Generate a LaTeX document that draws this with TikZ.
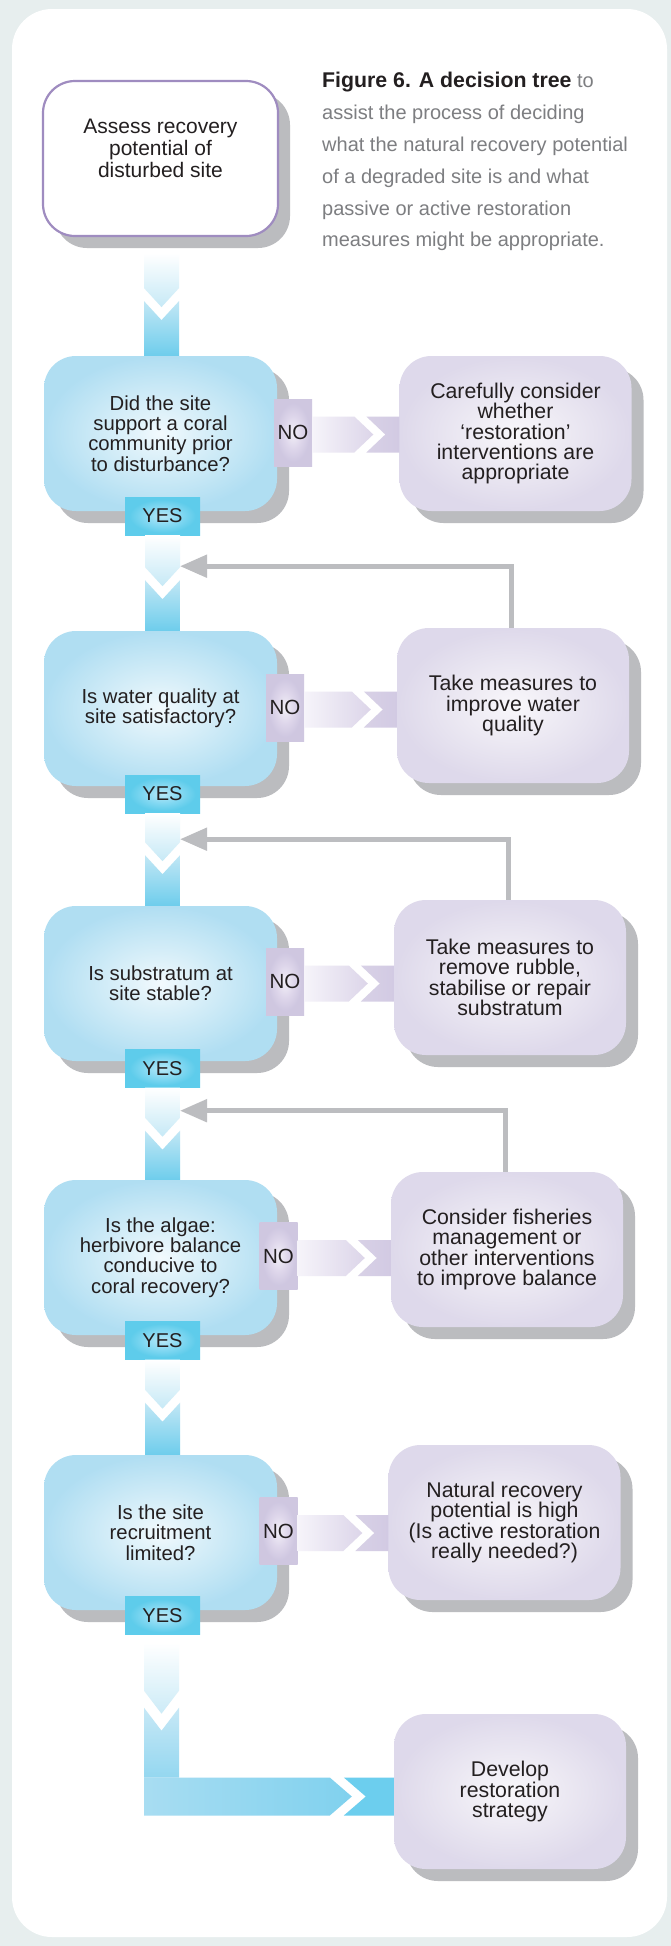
\documentclass[tikz,border=0pt]{standalone}
\usepackage{fontspec}
\setmainfont{Liberation Sans}
\usetikzlibrary{calc,shadows,arrows.meta}

\definecolor{bgc}{HTML}{E7EEEE}
\definecolor{shadowc}{HTML}{BBBCBF}
\definecolor{txt}{HTML}{231F20}
\definecolor{capgrey}{HTML}{7D7E81}
\definecolor{toprim}{HTML}{9F8CC0}
\definecolor{fbc}{HTML}{BCBDC0}
\definecolor{chevA}{HTML}{C6E9F6}
\definecolor{chevB}{HTML}{C2E7F5}
\definecolor{chevC}{HTML}{6ECDEC}
\definecolor{noA}{HTML}{F6F4FA}
\definecolor{noB}{HTML}{DCD5E9}
\definecolor{noC}{HTML}{D8D1E6}
\definecolor{noD}{HTML}{D2CAE3}
\definecolor{finA}{HTML}{CCEBF7}
\definecolor{finB}{HTML}{C7E8F6}
\definecolor{finC}{HTML}{94D7F0}
\definecolor{finD}{HTML}{A8DDF2}
\definecolor{finE}{HTML}{80D1EE}
\definecolor{finF}{HTML}{6CCEEE}

\pgfdeclareradialshading{qglow}{\pgfpoint{0bp}{0bp}}{rgb(0bp)=(0.95,0.98,0.995); rgb(6bp)=(0.88,0.95,0.98); rgb(18bp)=(0.76,0.90,0.96); rgb(25bp)=(0.69,0.87,0.95); rgb(50bp)=(0.69,0.87,0.95)}
\pgfdeclareradialshading{rglow}{\pgfpoint{0bp}{0bp}}{rgb(0bp)=(0.975,0.97,0.985); rgb(8bp)=(0.94,0.93,0.96); rgb(25bp)=(0.87,0.85,0.92); rgb(50bp)=(0.87,0.85,0.92)}
\pgfdeclareradialshading{yglow}{\pgfpoint{0bp}{0bp}}{rgb(0bp)=(0.72,0.91,0.97); rgb(12bp)=(0.52,0.85,0.95); rgb(22bp)=(0.37,0.80,0.92); rgb(50bp)=(0.37,0.80,0.92)}
\pgfdeclareradialshading{nglow}{\pgfpoint{0bp}{0bp}}{rgb(0bp)=(0.95,0.94,0.97); rgb(12bp)=(0.87,0.84,0.92); rgb(22bp)=(0.81,0.78,0.88); rgb(50bp)=(0.81,0.78,0.88)}

% vertical chevron arrow: #1 top point, #2 node point giving the bottom, #3 chevron offset
\newcommand{\vchevron}[3]{%
  \shade[top color=white, bottom color=chevA]
    ($(#1)+(-17.5,0)$) -- ($(#1)+(17.5,0)$) -- ($(#1)+(17.5,#3)$) --
    ($(#1)+(0,#3+19)$) -- ($(#1)+(-17.5,#3)$) -- cycle;
  \shade[top color=chevB, bottom color=chevC]
    ($(#1)+(-17.5,#3+13)$) -- ($(#1)+(0,#3+32)$) -- ($(#1)+(17.5,#3+13)$) --
    ($(#1 |- #2)+(17.5,0)$) -- ($(#1 |- #2)+(-17.5,0)$) -- cycle;
}
% horizontal chevron arrow: #1 start point, #2 node point giving the end
\newcommand{\hchevron}[2]{%
  \coordinate (hcS) at ($(#1)+(0,2)$);
  \coordinate (hcE) at (hcS -| #2);
  \shade[left color=noA, right color=noB]
    ($(hcS)+(0,-18)$) -- ($(hcE)+(-45,-18)$) -- ($(hcE)+(-26,0)$) --
    ($(hcE)+(-45,18)$) -- ($(hcS)+(0,18)$) -- cycle;
  \shade[left color=noC, right color=noD]
    ($(hcE)+(-33,-18)$) -- ($(hcE)+(0,-18)$) -- ($(hcE)+(0,18)$) --
    ($(hcE)+(-33,18)$) -- ($(hcE)+(-14,0)$) -- cycle;
}

\tikzset{
  sh/.style={drop shadow={shadow xshift=12pt, shadow yshift=-12pt, fill=shadowc, opacity=1}},
  qbox/.style={sh, rounded corners=32pt, minimum width=233pt, minimum height=155pt,
    inner sep=0pt, shade, shading=qglow, align=center, text=txt,
    font=\fontsize{20.3}{20.3}\selectfont},
  abox/.style={sh, rounded corners=32pt, minimum width=232pt, minimum height=155pt,
    inner sep=0pt, shade, shading=rglow, align=center, text=txt,
    font=\fontsize{21.3}{20.4}\selectfont},
  startbox/.style={sh, rounded corners=32pt, minimum width=235pt, minimum height=155pt,
    fill=white, draw=toprim, line width=2.2pt},
  yestab/.style={minimum width=75pt, minimum height=38pt, inner sep=0pt, shade,
    shading=yglow, text=txt, font=\fontsize{20}{20}\selectfont},
  notab/.style={minimum width=38pt, minimum height=67pt, inner sep=0pt, shade,
    shading=nglow, text=txt, font=\fontsize{20.5}{20}\selectfont},
  fb/.style={fbc, line width=5pt, -{Triangle[length=27pt,width=22pt]}},
}

\begin{document}
\begin{tikzpicture}[x=1pt, y=-1pt]
\useasboundingbox (0,0) rectangle (671,1946);
\fill[bgc] (0,0) rectangle (671,1946);
\fill[white, rounded corners=40pt] (12,9) rectangle (667,1937);

% start box
\node[startbox] (a0) at (160.5,158.5) {};
\node[text=txt, align=center, font=\fontsize{21}{22}\selectfont] (a0t) at (160.5,148)
  {Assess recovery\\potential of\\disturbed site};

% caption
\node[anchor=north west, align=left, inner sep=0pt, text=capgrey,
  font=\fontsize{20}{31.8}\selectfont] (cap) at (322,72.2)
  {\textcolor{txt}{\fontsize{21.3}{31.8}\selectfont\bfseries Figure 6. A decision tree} to\\
   assist the process of deciding\\
   what the natural recovery potential\\
   of a degraded site is and what\\
   passive or active restoration\\
   measures might be appropriate.};

% question boxes
\node[qbox] (q1) at (160.5,433.5) {Did the site\\support a coral\\community prior\\to disturbance?};
\node[qbox] (q2) at (160.5,708.5) {Is water quality at\\site satisfactory?};
\node[qbox] (q3) at (160.5,983.5) {Is substratum at\\site stable?};
\node[qbox] (q4) at (160.5,1257.5) {Is the algae:\\herbivore balance\\conducive to\\coral recovery?};
\node[qbox] (q5) at (160.5,1532.5) {Is the site\\recruitment\\limited?};

% action boxes
\node[abox] (r1) at (515.5,433.5) {Carefully consider\\whether\\‘restoration’\\interventions are\\appropriate};
\node[abox] (r2) at (513,705.5) {Take measures to\\improve water\\quality};
\node[abox] (r3) at (510,977.5) {Take measures to\\remove rubble,\\stabilise or repair\\substratum};
\node[abox] (r4) at (507,1249.5) {Consider fisheries\\management or\\other interventions\\to improve balance};
\node[abox] (r5) at (504.5,1522.5) {Natural recovery\\potential is high\\(Is active restoration\\really needed?)};
\node[abox] (r6) at (510,1791.5) {Develop\\restoration\\strategy};

% NO tabs
\node[notab] (no1) at (293,432.5) {NO};
\node[notab] (no2) at (285,707.5) {NO};
\node[notab] (no3) at (285,981.5) {NO};
\node[notab] (no4) at (278.5,1256) {NO};
\node[notab] (no5) at (278.5,1531) {NO};

% YES tabs
\node[yestab] (yes1) at (162.5,516) {YES};
\node[yestab] (yes2) at (162.5,794) {YES};
\node[yestab] (yes3) at (162.5,1068.5) {YES};
\node[yestab] (yes4) at (162.5,1340.5) {YES};
\node[yestab] (yes5) at (162.5,1615.5) {YES};

% vertical flow arrows
\coordinate (a0s) at ($(a0.south)+(1,16)$);
\vchevron{a0s}{q1.north}{35}
\vchevron{yes1.south}{q2.north}{32}
\vchevron{yes2.south}{q3.north}{29}
\vchevron{yes3.south}{q4.north}{30}
\vchevron{yes4.south}{q5.north}{30}

% NO arrows
\hchevron{no1.east}{r1.west}
\hchevron{no2.east}{r2.west}
\hchevron{no3.east}{r3.west}
\hchevron{no4.east}{r4.west}
\hchevron{no5.east}{r5.west}

% feedback arrows
\coordinate (fb1) at ($(yes1.south)+(17.5,31)$);
\coordinate (fb2) at ($(yes2.south)+(17.5,26)$);
\coordinate (fb3) at ($(yes3.south)+(17.5,23)$);
\draw[fb] ($(r2.north)+(-2,0)$) |- (fb1);
\draw[fb] ($(r3.north)+(-2,0)$) |- (fb2);
\draw[fb] ($(r4.north)+(-2,0)$) |- (fb3);

% final L-shaped arrow
\coordinate (fv) at ($(yes5.south)+(-1,8)$);
\coordinate (fh) at ($(r6.west)+(0,5)$);
\shade[top color=white, bottom color=finA]
  ($(fv)+(-17.5,0)$) -- ($(fv)+(17.5,0)$) -- ($(fv)+(17.5,48)$) --
  ($(fv)+(0,71)$) -- ($(fv)+(-17.5,48)$) -- cycle;
\shade[top color=finB, bottom color=finC]
  ($(fv)+(-17.5,65)$) -- ($(fv)+(0,88)$) -- ($(fv)+(17.5,65)$) --
  ($(fv |- fh)+(17.5,-19)$) -- ($(fv |- fh)+(-17.5,-19)$) -- cycle;
\shade[left color=finD, right color=finE]
  ($(fv |- fh)+(-17.5,-19)$) -- ($(fh)+(-64,-19)$) -- ($(fh)+(-42,0)$) --
  ($(fh)+(-64,19)$) -- ($(fv |- fh)+(-17.5,19)$) -- cycle;
\fill[finF]
  ($(fh)+(-50,-19)$) -- ($(fh)+(0,-19)$) -- ($(fh)+(0,19)$) --
  ($(fh)+(-50,19)$) -- ($(fh)+(-28,0)$) -- cycle;
\end{tikzpicture}
\end{document}
